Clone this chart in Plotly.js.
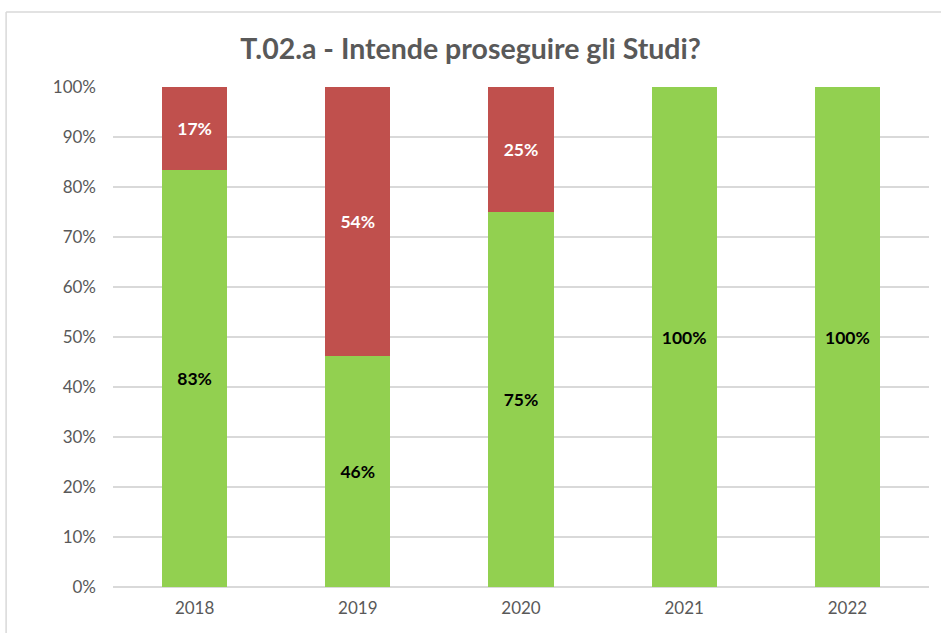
<!DOCTYPE html>
<html>
<head>
<meta charset="utf-8">
<script src="https://cdn.plot.ly/plotly-3.0.1.min.js"></script>
<style>html,body{margin:0;padding:0;background:#fff;}#chart{width:941px;height:633px;}</style>
</head>
<body>
<div id="chart"></div>
<script>
const years = ['2018', '2019', '2020', '2021', '2022'];
const siValues = [83.33, 46.15, 75, 100, 100];
const noValues = [16.67, 53.85, 25, 0, 0];
const yTickVals = [0, 10, 20, 30, 40, 50, 60, 70, 80, 90, 100];
const yTickLabels = ['0%', '10%', '20%', '30%', '40%', '50%', '60%', '70%', '80%', '90%', '100%'];

const fmt = v => v > 0 ? Math.round(v) + '%' : '';
const fontFam = 'Lato, "Open Sans", sans-serif';

const traces = [
  {
    type: 'bar', name: 'Sì', x: years, y: siValues,
    marker: {color: '#92d050'},
    text: siValues.map(fmt), textposition: 'inside', insidetextanchor: 'middle',
    textfont: {family: fontFam, size: 17.5, color: '#000000', weight: 'bold'},
    hoverinfo: 'x+y'
  },
  {
    type: 'bar', name: 'No', x: years, y: noValues,
    marker: {color: '#c0504d'},
    text: noValues.map(fmt), textposition: 'inside', insidetextanchor: 'middle',
    textfont: {family: fontFam, size: 17.5, color: '#ffffff', weight: 'bold'},
    hoverinfo: 'x+y'
  }
];

const layout = {
  width: 941, height: 633,
  margin: {l: 113, r: 12, t: 87, b: 46},
  barmode: 'stack', bargap: 0.6,
  showlegend: false,
  paper_bgcolor: '#ffffff', plot_bgcolor: '#ffffff',
  font: {family: fontFam, color: '#595959'},
  title: {
    text: '<b>T.02.a - Intende proseguire gli Studi?</b>',
    font: {family: fontFam, size: 28.5, color: '#595959'},
    x: 0.5, xanchor: 'center', y: 0.922, yanchor: 'middle'
  },
  xaxis: {
    type: 'category', showgrid: false, zeroline: false,
    showline: false, ticks: '',
    tickfont: {family: fontFam, size: 17, color: '#595959'},
    ticklabelstandoff: 9
  },
  yaxis: {
    range: [0, 100], tickmode: 'array', tickvals: yTickVals, ticktext: yTickLabels,
    showgrid: true, gridcolor: '#d9d9d9', gridwidth: 1.5,
    zeroline: true, zerolinecolor: '#d9d9d9', zerolinewidth: 1.5,
    showline: false, ticks: '',
    tickfont: {family: fontFam, size: 17, color: '#595959'},
    ticklabelstandoff: 16
  },
  shapes: [
    {type: 'line', xref: 'paper', yref: 'paper', x0: -0.131, x1: 1.1, y0: 1.15, y1: 1.15,
     line: {color: '#d9d9d9', width: 1.5}},
    {type: 'line', xref: 'paper', yref: 'paper', x0: -0.131, x1: -0.131, y0: 1.15, y1: -0.2,
     line: {color: '#d9d9d9', width: 1.5}}
  ]
};

Plotly.newPlot('chart', traces, layout, {displayModeBar: false, staticPlot: true});
</script>
</body>
</html>
